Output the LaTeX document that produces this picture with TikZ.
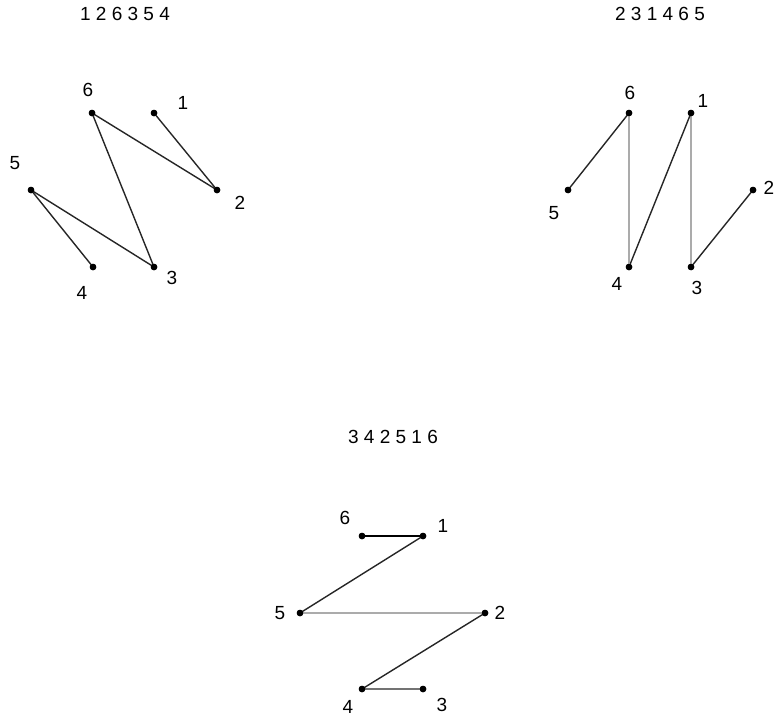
\documentclass[tikz,border=0pt]{standalone}
\usepackage{fontspec}
\setmainfont{Liberation Sans}
\begin{document}
\begin{tikzpicture}[x=1pt,y=-1pt,
  dot/.style={circle,fill=black,inner sep=0pt,minimum size=6.5pt},
  lab/.style={inner sep=0pt,font=\fontsize{19}{19}\selectfont},
  ttl/.style={inner sep=0pt,font=\fontsize{19}{19}\selectfont},
  dk/.style={draw=black!85,line width=1.4pt},
  blk/.style={draw=black,line width=1.4pt},
  md/.style={draw=black!55,line width=1.4pt},
  lt/.style={draw=black!33,line width=1.6pt}]
\useasboundingbox (0,0) rectangle (776,720);
% ---------- diagram 1 ----------
\node[ttl] (t1) at (125,14) {1 2 6 3 5 4};
\node[dot] (a1) at (154,113) {};
\node[dot] (a2) at (217,190) {};
\node[dot] (a3) at (154,267) {};
\node[dot] (a4) at (93,267) {};
\node[dot] (a5) at (31,190) {};
\node[dot] (a6) at (92,113) {};
\node[lab] (la1) at (183,103) {1};
\node[lab] (la2) at (240,203) {2};
\node[lab] (la3) at (172,278) {3};
\node[lab] (la4) at (82,293) {4};
\node[lab] (la5) at (15,163) {5};
\node[lab] (la6) at (88,90) {6};
\draw[dk] (a1.center) -- (a2.center);
\draw[dk] (a2.center) -- (a6.center);
\draw[dk] (a6.center) -- (a3.center);
\draw[dk] (a3.center) -- (a5.center);
\draw[dk] (a5.center) -- (a4.center);
\foreach \n in {a1,a2,a3,a4,a5,a6} \node[dot] at (\n) {};
% ---------- diagram 2 ----------
\node[ttl] (t2) at (660,14) {2 3 1 4 6 5};
\node[dot] (b1) at (691,113) {};
\node[dot] (b2) at (753,190) {};
\node[dot] (b3) at (691,267) {};
\node[dot] (b4) at (629,267) {};
\node[dot] (b5) at (568,190) {};
\node[dot] (b6) at (629,113) {};
\node[lab] (lb1) at (703,101) {1};
\node[lab] (lb2) at (769,188) {2};
\node[lab] (lb3) at (697,288) {3};
\node[lab] (lb4) at (617,284) {4};
\node[lab] (lb5) at (554,213) {5};
\node[lab] (lb6) at (630,93) {6};
\draw[dk] (b2.center) -- (b3.center);
\draw[lt] (b3.center) -- (b1.center);
\draw[dk] (b1.center) -- (b4.center);
\draw[lt] (b4.center) -- (b6.center);
\draw[dk] (b6.center) -- (b5.center);
\foreach \n in {b1,b2,b3,b4,b5,b6} \node[dot] at (\n) {};
% ---------- diagram 3 ----------
\node[ttl] (t3) at (393,437) {3 4 2 5 1 6};
\node[dot] (c1) at (423,536) {};
\node[dot] (c2) at (485,613) {};
\node[dot] (c3) at (423,689) {};
\node[dot] (c4) at (362,689) {};
\node[dot] (c5) at (300,613) {};
\node[dot] (c6) at (362,536) {};
\node[lab] (lc1) at (443,526) {1};
\node[lab] (lc2) at (500,613) {2};
\node[lab] (lc3) at (442,705) {3};
\node[lab] (lc4) at (348,707) {4};
\node[lab] (lc5) at (280,613) {5};
\node[lab] (lc6) at (345,518) {6};
\draw[md] (c3.center) -- (c4.center);
\draw[dk] (c4.center) -- (c2.center);
\draw[lt] (c2.center) -- (c5.center);
\draw[dk] (c5.center) -- (c1.center);
\draw[blk] (c1.center) -- (c6.center);
\foreach \n in {c1,c2,c3,c4,c5,c6} \node[dot] at (\n) {};
\end{tikzpicture}
\end{document}
